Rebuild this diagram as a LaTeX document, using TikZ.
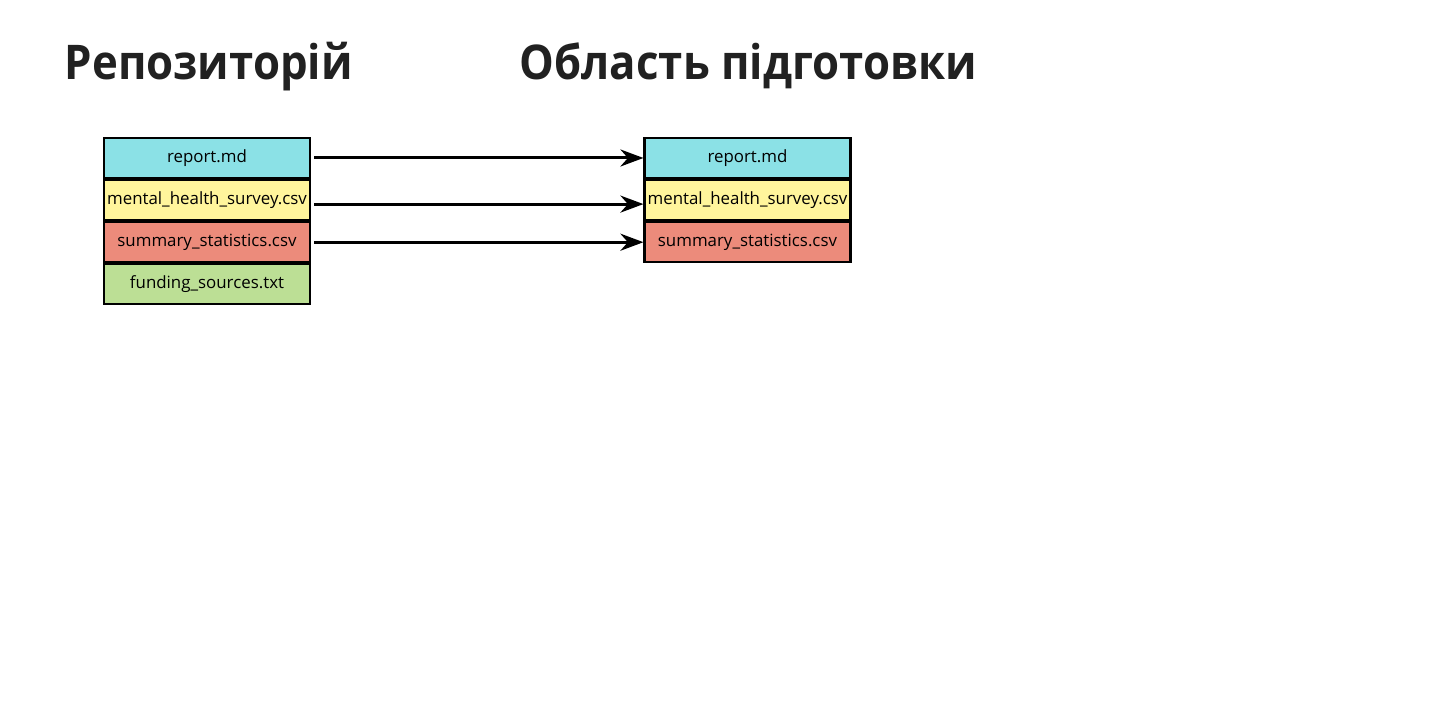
\documentclass[tikz,border=0pt]{standalone}
\usepackage{fontspec}
\setmainfont{Open Sans}
\usepackage{xcolor}
\usetikzlibrary{shapes,positioning,arrows.meta}
\definecolor{mdcol}{HTML}{8BE1E6}
\definecolor{surveycol}{HTML}{FFF59C}
\definecolor{statcol}{HTML}{EC8B7B}
\definecolor{fundcol}{HTML}{BCDF95}
\newfontfamily\ttlfont[FakeStretch=0.915]{Open Sans Bold}
\tikzset{cell/.style={rectangle,draw,line width=0.6pt,minimum height=0.4cm,minimum width=2.06cm,inner sep=0pt,font=\fontsize{4.8}{5.5}\selectfont},
         ttl/.style={anchor=base west,inner sep=0pt,font=\ttlfont\fontsize{13.6}{16}\selectfont,text=black!87}}

\begin{document}
\begin{tikzpicture}[>={Stealth[length=2.3mm,width=1.7mm]}, node distance=0cm]
    \useasboundingbox[fill=white] (0,0) rectangle (14.39,-7.20);

    \node[ttl] (t1)at (0.64,-0.80) {Репозиторій};
    \node[ttl] (t2)at (5.19,-0.80) {Область підготовки};

    \node[cell,fill=mdcol] (a)at (2.07,-1.58) {report.md};
    \node[cell,fill=surveycol,below=of a] (b) {mental\_health\_survey.csv};
    \node[cell,fill=statcol,below=of b] (c) {summary\_statistics.csv};
    \node[cell,fill=fundcol,below=of c] (d) {funding\_sources.txt};

    \node[cell,fill=mdcol] (e)at (7.475,-1.58) {report.md};
    \node[cell,fill=surveycol,below=of e] (f) {mental\_health\_survey.csv};
    \node[cell,fill=statcol,below=of f] (g) {summary\_statistics.csv};

    \draw [->,line width=0.85pt] ([xshift=0.03cm]a.east) to (e.west);
    \draw [->,line width=0.85pt] ([xshift=0.03cm,yshift=-0.04cm]b.east) to ([yshift=-0.04cm]f.west);
    \draw [->,line width=0.85pt] ([xshift=0.03cm]c.east) to (g.west);
\end{tikzpicture}
\end{document}
